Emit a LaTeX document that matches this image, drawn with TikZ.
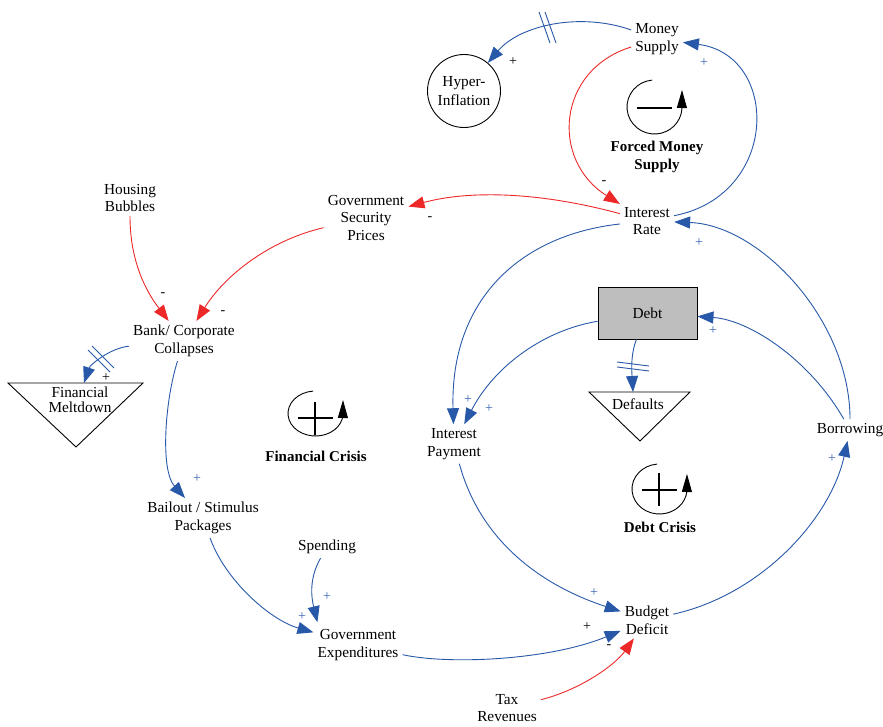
\documentclass[tikz,border=0pt]{standalone}
\usepackage{fontspec}
\setmainfont{Liberation Serif}
\usetikzlibrary{arrows.meta}
\definecolor{cblue}{RGB}{40,88,168}
\definecolor{cred}{RGB}{236,40,40}
\definecolor{lblue}{RGB}{60,100,180}
\definecolor{stockgray}{RGB}{190,190,190}
\begin{document}
\begin{tikzpicture}[x=1pt,y=-1pt,
  var/.style={align=center, inner sep=4pt, font=\fontsize{15.3}{17.8}\selectfont},
  bold/.style={align=center, inner sep=0pt, font=\bfseries\fontsize{15}{18}\selectfont},
  lnk/.style={line width=0.9pt, -{Triangle[length=16pt,width=12pt]}},
  blnk/.style={lnk, color=cblue},
  rlnk/.style={lnk, color=cred},
  hash/.style={line width=0.9pt, color=cblue},
  lbl/.style={inner sep=0pt, font=\fontsize{14}{14}\selectfont},
  plbl/.style={lbl, text=lblue},
  icon/.style={line width=0.9pt, black, -{Triangle[length=18pt,width=10pt]}},
  sign/.style={line width=2.4pt, black}
]
\useasboundingbox (0,0) rectangle (883,727);

% ---------- variables ----------
\node[var] (ms) at (657,39) {Money\\Supply};
\node[var] (ir) at (647,221) {Interest\\Rate};
\node[var] (gsp) at (366,218) {Government\\Security\\Prices};
\node[var] (hb) at (130,198) {Housing\\Bubbles};
\node[var] (bcc) at (184,341) {Bank/ Corporate\\Collapses};
\node[var] (bsp) at (203,518) {Bailout / Stimulus\\Packages};
\node[var] (sp) at (327,547) {Spending};
\node[var] (ge) at (358,645) {Government\\Expenditures};
\node[var] (bd) at (647,620) {Budget\\Deficit};
\node[var] (tr) at (507,708) {Tax\\Revenues};
\node[var] (ip) at (454,444) {Interest\\Payment};
\node[var] (bor) at (850,430) {Borrowing};
\node[var, draw, fill=stockgray, line width=0.9pt, minimum width=99pt, minimum height=52pt] (debt) at (647.5,313) {Debt};
\node[var, draw, circle, line width=0.9pt, minimum size=73pt, inner sep=0pt, font=\fontsize{15.3}{19}\selectfont] (hi) at (464,91) {Hyper-\\Inflation};

% sinks (triangles)
\draw[line width=0.9pt] (8,383) -- (143,383) -- (76,447) -- cycle;
\node[var, font=\fontsize{15.3}{14.5}\selectfont] (fm) at (80,400) {Financial\\Meltdown};
\coordinate (fmtop) at (84,383);
\draw[line width=0.9pt] (589,392) -- (690,392) -- (640,441) -- cycle;
\node[var] (def) at (638,404) {Defaults};
\coordinate (deftop) at (633,392);

% ---------- connectors ----------
\draw[blnk] (ms) .. controls (580,12) and (520,25) .. (hi);
\draw[hash] (539,12) -- (550,43);
\draw[hash] (545,12) -- (556,43);

\draw[rlnk] (ms) .. controls (557,70) and (550,160) .. (ir);
\draw[blnk] (ir) .. controls (780,195) and (780,55) .. (ms);
\draw[rlnk] (ir) .. controls (540,192) and (470,190) .. (gsp);
\draw[rlnk] (hb) .. controls (130,260) and (145,290) .. (bcc);
\draw[rlnk] (gsp) .. controls (270,240) and (225,275) .. (bcc);

\draw[blnk] (bcc) .. controls (110,348) and (90,365) .. (fmtop);
\draw[hash] (88,350) -- (110,372);
\draw[hash] (92,346) -- (114,368);

\draw[blnk] (bcc) .. controls (165,400) and (160,470) .. (bsp);
\draw[blnk] (ir) .. controls (520,235) and (450,300) .. (ip);
\draw[blnk] (debt) .. controls (545,330) and (495,365) .. (ip);

\draw[blnk] (debt) .. controls (630,355) and (632,375) .. (deftop);
\draw[hash] (617,362) -- (649,366);
\draw[hash] (617,367) -- (649,371);

\draw[blnk] (bor) .. controls (810,360) and (750,320) .. (debt);
\draw[blnk] (bor) .. controls (850,320) and (760,225) .. (ir);
\draw[blnk] (ip) .. controls (480,540) and (540,585) .. (bd);
\draw[blnk] (bd) .. controls (760,595) and (830,520) .. (bor);
\draw[blnk] (bsp) .. controls (225,580) and (270,620) .. (ge);
\draw[blnk] (sp) .. controls (308,580) and (312,600) .. ([shift={(4,-3)}]ge.north west);
\draw[blnk] (ge) .. controls (450,665) and (550,660) .. (bd);
\draw[rlnk] (tr) .. controls (580,690) and (615,665) .. (bd);

% ---------- polarity labels ----------
\node[lbl] (l1) at (513,62) {+};
\node[lbl] (l2) at (106,378) {+};
\node[lbl] (l3) at (587,627) {+};
\node[plbl] (l4) at (704,63) {+};
\node[plbl] (l5) at (699,243) {+};
\node[plbl] (l6) at (468,400) {+};
\node[plbl] (l7) at (489,409) {+};
\node[plbl] (l8) at (713,331) {+};
\node[plbl] (l9) at (832,459) {+};
\node[plbl] (l10) at (594,593) {+};
\node[plbl] (l11) at (197,479) {+};
\node[plbl] (l12) at (302,617) {+};
\node[plbl] (l13) at (327,597) {+};
\node[lbl] (m1) at (604,183) {-};
\node[lbl] (m2) at (430,219) {-};
\node[lbl] (m3) at (163,295) {-};
\node[lbl] (m4) at (223,313) {-};
\node[lbl] (m5) at (609,647) {-};

% ---------- loop icons ----------
% Forced Money Supply (balancing)
\coordinate (c1) at (654.5,107);
\draw[icon] (c1) ++(95:27.5pt and 27pt) arc[start angle=95, end angle=355, x radius=27.5pt, y radius=27pt]
  -- ([shift={(27.5pt,17pt)}]c1);
\draw[sign] (637,108) -- (672,108);
\node[bold] (t1) at (657,157) {Forced Money\\Supply};

% Financial Crisis (reinforcing)
\coordinate (c2) at (315.5,413.5);
\draw[icon] (c2) ++(95:27.5pt and 22.5pt) arc[start angle=95, end angle=355, x radius=27.5pt, y radius=22.5pt]
  -- ([shift={(27.5pt,13.5pt)}]c2);
\draw[sign] (298,418) -- (333,418);
\draw[sign] (315,402) -- (315,435);
\node[bold] (t2) at (316,456) {Financial Crisis};

% Debt Crisis (reinforcing)
\coordinate (c3) at (659.5,489);
\draw[icon] (c3) ++(95:27.5pt and 25pt) arc[start angle=95, end angle=355, x radius=27.5pt, y radius=25pt]
  -- ([shift={(27.5pt,15pt)}]c3);
\draw[sign] (642,490) -- (677,490);
\draw[sign] (659,473) -- (659,506);
\node[bold] (t3) at (660,527) {Debt Crisis};
\end{tikzpicture}
\end{document}
